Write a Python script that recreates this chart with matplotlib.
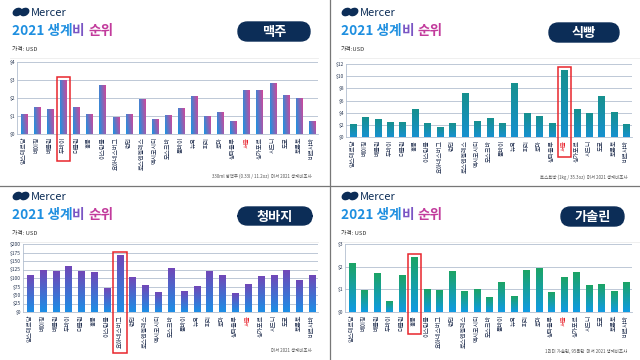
import matplotlib
matplotlib.use('Agg')
import matplotlib.pyplot as plt
import numpy as np
from matplotlib.colors import LinearSegmentedColormap
from matplotlib.patches import FancyBboxPatch, Rectangle, Ellipse
import matplotlib.transforms as mtrans

plt.rcParams['font.family'] = ['Noto Sans CJK KR', 'DejaVu Sans']

cities = ['암스테르담', '베이징', '베를린', '두바이', '더블린', '홍콩', '이스탄불',
          '요하네스버그', '런던', '로스앤젤레스', '멕시코시티', '모스크바', '뭄바이',
          '뉴욕', '파리', '로마', '상파울루', '서울', '싱가포르', '시드니', '도쿄',
          '토론토', '바르샤바']

beer = [1.07, 1.5, 1.35, 2.97, 1.5, 1.1, 2.72, 0.94, 1.1, 1.94, 0.83, 1.04, 1.43,
        2.1, 0.96, 1.2, 0.67, 2.4, 2.4, 2.8, 2.15, 1.96, 0.7]
bread = [2.08, 3.23, 2.85, 2.36, 2.36, 4.55, 2.25, 1.59, 2.25, 7.07, 2.63, 3.07, 2.19,
         8.77, 3.89, 3.29, 2.25, 10.96, 4.44, 3.89, 6.63, 4.0, 2.03]
jeans = [107, 122, 119, 134, 119, 115, 69, 167, 102, 78, 58, 127, 60, 75, 118, 107,
         53, 80, 104, 107, 123, 92, 106]
gas = [2.12, 0.97, 1.71, 0.48, 1.62, 2.39, 1.0, 0.97, 1.77, 0.89, 1.01, 0.64, 1.32,
       0.68, 1.81, 1.92, 0.85, 1.53, 1.74, 1.19, 1.23, 0.92, 1.29]

items = ['맥주', '식빵', '청바지', '가솔린']
highlight = ['두바이', '서울', '요하네스버그', '홍콩']
sources = ['330ml 병맥주 (0.33l / 11.2oz)  머서 2021 생계비조사',
           '토스트빵 (1kg / 35.3oz)  머서 2021 생계비조사',
           '머서 2021 생계비조사',
           '1리터 가솔린, 95옥탄  머서 2021 생계비조사']
price_label = ['가격: USD', '가격:USD', '가격: USD', '가격: USD']

NAVY = '#0c2d57'

fig = plt.figure(figsize=(6.4, 3.6), dpi=100)
bg = fig.add_axes([0, 0, 1, 1])
bg.set_xlim(0, 640)
bg.set_ylim(360, 0)
bg.axis('off')


def px(x0, y0, x1, y1):
    return [x0 / 640, 1 - y1 / 360, (x1 - x0) / 640, (y1 - y0) / 360]


def gradient_bars(ax, bars, c0, c1, mode):
    cmap = LinearSegmentedColormap.from_list('g', [c0, c1])
    for b in bars:
        x0, y0, w, h = b.get_x(), b.get_y(), b.get_width(), b.get_height()
        xx, yy = np.meshgrid(np.linspace(0, 1, 20), np.linspace(0, 1, 40))
        if mode == 'v':
            img = yy
        elif mode == 'h':
            img = xx
        else:
            img = 0.75 * xx + 0.25 * yy
        ax.imshow(img, cmap=cmap, extent=[x0, x0 + w, y0, y0 + h], origin='lower',
                  aspect='auto', zorder=3, clip_path=b, interpolation='bilinear')


def header(ox, oy, box, item, price):
    # logo
    bg.add_patch(Ellipse((ox + 17.5, oy + 12), 9, 6.5, angle=-30, color=NAVY))
    bg.add_patch(Ellipse((ox + 24.5, oy + 12), 9, 6.5, angle=-30, color=NAVY))
    bg.text(ox + 31, oy + 12.5, 'Mercer', fontsize=8, color=NAVY, va='center',
            ha='left', fontweight='medium')
    # gradient title
    x = ox + 12
    r = fig.canvas.get_renderer()
    for part, col in [('2021 생계', '#1e8fe0'), ('비 ', '#7a55c4'), ('순위', '#c23b9c')]:
        t = bg.text(x, oy + 31, part, fontsize=9.8, color=col, va='center', ha='left',
                    fontweight='bold')
        bb = t.get_window_extent(renderer=r)
        x += bb.width
    bg.text(ox + 12, oy + 49.5, price, fontsize=4.2, color='#333333', va='center')
    bg.plot([ox + 10, ox + 318], [oy + 58, oy + 58], color='#ececec', lw=0.6)
    bx0, by0, bx1, by1 = box
    bg.add_patch(FancyBboxPatch((bx0 + 8, by0), bx1 - bx0 - 16, by1 - by0,
                                boxstyle='round,pad=0,rounding_size=9.5',
                                mutation_aspect=1, color=NAVY))
    bg.text((bx0 + bx1) / 2, (by0 + by1) / 2 + 0.5, item, fontsize=9.5, color='white',
            fontweight='bold', ha='center', va='center')


panels = [
    dict(vals=beer, origin=(0, 0), box=(230, 22, 318, 41), ax=(17, 62, 318, 134),
         yt=np.arange(0, 5, 1), fmt='${:.0f}', c=('#1995e2', '#d0479a'), mode='d',
         depth=-0.38, src_x=312, src_y=176),
    dict(vals=bread, origin=(329, 0), box=(541, 23, 627, 42), ax=(346, 64, 632, 137),
         yt=np.arange(0, 13, 2), fmt='${:.0f}', c=('#1690cf', '#17918f'), mode='v',
         depth=-0.28, src_x=627, src_y=177),
    dict(vals=jeans, origin=(0, 184), box=(230, 207, 320, 225), ax=(23, 244, 318, 312),
         yt=np.arange(0, 201, 25), fmt='${:.0f}', c=('#1d8ee6', '#7048b8'), mode='v',
         depth=-0.6, src_x=312, src_y=350),
    dict(vals=gas, origin=(329, 184), box=(553, 207, 632, 226), ax=(345, 244, 632, 312),
         yt=np.arange(0, 4, 1), fmt='${:.0f}', c=('#109be2', '#1ca466'), mode='v',
         depth=-0.33, src_x=627, src_y=352),
]

for i, p in enumerate(panels):
    ox, oy = p['origin']
    header(ox, oy, p['box'], items[i], price_label[i])
    ax = fig.add_axes(px(*p['ax']))
    x = np.arange(len(cities))
    bars = ax.bar(x, p['vals'], width=0.5, color=p['c'][0], zorder=2)
    gradient_bars(ax, bars, p['c'][0], p['c'][1], p['mode'])
    ax.set_xlim(-0.55, len(cities) - 0.55)
    ax.set_ylim(0, p['yt'][-1])
    ax.set_yticks(p['yt'])
    ax.set_yticklabels([p['fmt'].format(v) for v in p['yt']], fontsize=3.6, color='#2b3a55')
    ax.grid(axis='y', color='#b3bfd0', lw=0.6)
    ax.set_axisbelow(True)
    ax.set_xticks(x)
    ax.set_xticklabels(cities, rotation=90, fontsize=4.3, color='#1f2d4d',
                       va='top', ha='center')
    for lab in ax.get_xticklabels():
        if lab.get_text() == '서울':
            lab.set_color('#e8202a')
    ax.tick_params(length=0, pad=2)
    ax.tick_params(axis='y', pad=1.5)
    for s in ['top', 'right']:
        ax.spines[s].set_visible(False)
    ax.spines['left'].set_color('#b3bfd0')
    ax.spines['bottom'].set_color('#b3bfd0')
    ax.spines['left'].set_linewidth(0.6)
    ax.spines['bottom'].set_linewidth(0.6)
    ax.patch.set_alpha(0)
    # red highlight box around bar and its label
    hi = cities.index(highlight[i])
    tr = mtrans.blended_transform_factory(ax.transData, ax.transAxes)
    top = p['vals'][hi] / p['yt'][-1] + 0.05
    ax.add_patch(Rectangle((hi - 0.52, p['depth']), 1.04, top - p['depth'],
                           transform=tr, fill=False, ec='#e8262c', lw=1.1,
                           clip_on=False, zorder=5))
    bg.text(p['src_x'], p['src_y'], sources[i], fontsize=3.2, color='#555555',
            ha='right', va='center')

# dividers between the four slides
bg.plot([0, 640], [185.5, 185.5], color='#777777', lw=0.9)
bg.plot([329.5, 329.5], [0, 360], color='#777777', lw=0.9)

fig.savefig('out.png', dpi=100)
